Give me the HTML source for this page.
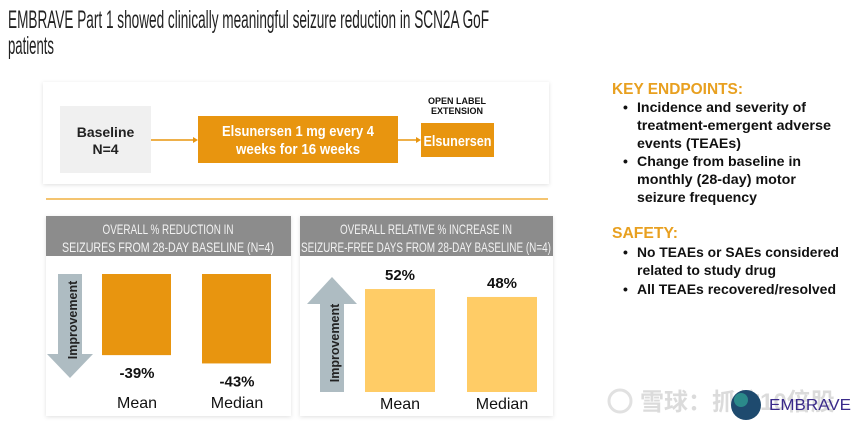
<!DOCTYPE html>
<html><head><meta charset="utf-8"><style>
html,body{margin:0;padding:0;background:#fff;}
svg{display:block;font-family:"Liberation Sans",sans-serif;}
</style></head><body>
<svg width="865" height="430" viewBox="0 0 865 430">
<defs>
<filter id="sh" x="-5%" y="-5%" width="110%" height="115%"><feDropShadow dx="0" dy="1" stdDeviation="2" flood-color="#000" flood-opacity="0.12"/></filter>
</defs>
<g fill="#222" font-size="25">
<text x="8" y="28" textLength="481" lengthAdjust="spacingAndGlyphs">EMBRAVE Part 1 showed clinically meaningful seizure reduction in SCN2A GoF</text>
<text x="8" y="54" textLength="46" lengthAdjust="spacingAndGlyphs">patients</text>
</g>

<g>
<rect x="43" y="82" width="506" height="102" fill="#fff" filter="url(#sh)"/>
<rect x="60" y="106" width="91" height="67" fill="#f0f0f0"/>
<text x="105.5" y="137" text-anchor="middle" font-size="14" font-weight="bold" fill="#222">Baseline</text>
<text x="105.5" y="154" text-anchor="middle" font-size="14" font-weight="bold" fill="#222">N=4</text>
<line x1="151" y1="140" x2="196" y2="140" stroke="#e8950f" stroke-width="1.5"/>
<polygon points="198,140 193,137 193,143" fill="#e8950f"/>
<rect x="198" y="116" width="200" height="47" fill="#e8950f"/>
<text x="298" y="136" text-anchor="middle" font-size="15" font-weight="bold" fill="#fff" textLength="152" lengthAdjust="spacingAndGlyphs">Elsunersen 1 mg every 4</text>
<text x="298" y="154" text-anchor="middle" font-size="15" font-weight="bold" fill="#fff" textLength="124" lengthAdjust="spacingAndGlyphs">weeks for 16 weeks</text>
<line x1="398" y1="140" x2="419" y2="140" stroke="#e8950f" stroke-width="1.5"/>
<polygon points="421,140 416,137 416,143" fill="#e8950f"/>
<text x="457" y="104" text-anchor="middle" font-size="9" font-weight="bold" fill="#111">OPEN LABEL</text>
<text x="457" y="114" text-anchor="middle" font-size="9" font-weight="bold" fill="#111">EXTENSION</text>
<rect x="421" y="123" width="73" height="34" fill="#e8950f"/>
<text x="457.5" y="146" text-anchor="middle" font-size="15" font-weight="bold" fill="#fff" textLength="68" lengthAdjust="spacingAndGlyphs">Elsunersen</text>
</g>
<line x1="46" y1="199" x2="548" y2="199" stroke="#f0b040" stroke-width="1.5"/>

<g>
<rect x="46" y="216" width="245" height="200" fill="#fff" filter="url(#sh)"/>
<rect x="46" y="216" width="245" height="40" fill="#8c8c8c"/>
<text x="168" y="234" text-anchor="middle" font-size="14" fill="#f2f2f2" textLength="131" lengthAdjust="spacingAndGlyphs">OVERALL % REDUCTION IN</text>
<text x="168" y="252" text-anchor="middle" font-size="14" fill="#f2f2f2" textLength="212" lengthAdjust="spacingAndGlyphs">SEIZURES FROM 28-DAY BASELINE (N=4)</text>
<g>
<rect x="58" y="274" width="24" height="80" fill="#aebcc2"/>
<polygon points="47,354 93,354 70,378" fill="#aebcc2"/>
<text transform="translate(77,320) rotate(-90)" text-anchor="middle" font-size="12.5" font-weight="bold" fill="#222">Improvement</text>
</g>
<g id="left-chart"></g>
</g>

<g>
<rect x="300" y="216" width="253" height="200" fill="#fff" filter="url(#sh)"/>
<rect x="300" y="216" width="253" height="40" fill="#8c8c8c"/>
<text x="426" y="234" text-anchor="middle" font-size="14" fill="#f2f2f2" textLength="172" lengthAdjust="spacingAndGlyphs">OVERALL RELATIVE % INCREASE IN</text>
<text x="426" y="252" text-anchor="middle" font-size="14" fill="#f2f2f2" textLength="250" lengthAdjust="spacingAndGlyphs">SEIZURE-FREE DAYS FROM 28-DAY BASELINE (N=4)</text>
<g>
<rect x="320" y="304" width="24" height="88" fill="#aebcc2"/>
<polygon points="307,304 357,304 332,277" fill="#aebcc2"/>
<text transform="translate(339,343) rotate(-90)" text-anchor="middle" font-size="12.5" font-weight="bold" fill="#222">Improvement</text>
</g>
<g id="right-chart"></g>
</g>

<g font-size="14" font-weight="bold" fill="#111">
<text x="612" y="94" font-size="16" fill="#e8a020" textLength="131" lengthAdjust="spacingAndGlyphs">KEY ENDPOINTS:</text>
<text x="623" y="112">•</text><text x="637" y="112" textLength="169" lengthAdjust="spacingAndGlyphs">Incidence and severity of</text>
<text x="637" y="130" textLength="194" lengthAdjust="spacingAndGlyphs">treatment-emergent adverse</text>
<text x="637" y="148" textLength="104" lengthAdjust="spacingAndGlyphs">events (TEAEs)</text>
<text x="623" y="166">•</text><text x="637" y="166" textLength="164" lengthAdjust="spacingAndGlyphs">Change from baseline in</text>
<text x="637" y="184" textLength="159" lengthAdjust="spacingAndGlyphs">monthly (28-day) motor</text>
<text x="637" y="202" textLength="120" lengthAdjust="spacingAndGlyphs">seizure frequency</text>
<text x="612" y="238" font-size="16" fill="#e8a020" textLength="66" lengthAdjust="spacingAndGlyphs">SAFETY:</text>
<text x="623" y="257">•</text><text x="637" y="257" textLength="202" lengthAdjust="spacingAndGlyphs">No TEAEs or SAEs considered</text>
<text x="637" y="275" textLength="139" lengthAdjust="spacingAndGlyphs">related to study drug</text>
<text x="623" y="294">•</text><text x="637" y="294" textLength="199" lengthAdjust="spacingAndGlyphs">All TEAEs recovered/resolved</text>
</g>

<g opacity="0.35" font-family="'Liberation Sans','Noto Sans CJK SC',sans-serif" fill="#999">
<circle cx="620" cy="401" r="11" fill="none" stroke="#aaa" stroke-width="3"/>
<text x="640" y="410" font-size="24" font-weight="bold">雪球：抓住10倍股</text>
</g>
<g>
<circle cx="746" cy="405" r="15" fill="#1e4a6e"/>
<circle cx="741" cy="400" r="7" fill="#2b8a8a"/>
<text x="769" y="410" font-size="16" fill="#3a2a8a" textLength="82" lengthAdjust="spacingAndGlyphs">EMBRAVE</text>
</g>
</svg>
<script>
const leftCats = ["Mean", "Median"];
const leftValues = [-39, -43];
const leftLabels = ["-39%", "-43%"];
const rightCats = ["Mean", "Median"];
const rightValues = [52, 48];
const rightLabels = ["52%", "48%"];

const NS = "http://www.w3.org/2000/svg";
function mk(tag, attrs, parent) {
  const e = document.createElementNS(NS, tag);
  for (const k in attrs) e.setAttribute(k, attrs[k]);
  parent.appendChild(e);
  return e;
}
const lg = document.getElementById("left-chart");
const lZero = 274, lScale = 2.08;
const lx = i => 102 + i * 100;
function ly(v) { return lZero + (-v) * lScale; }
leftValues.forEach((v, i) => {
  const r = mk("rect", {x: lx(i), y: lZero, width: 69, height: ly(v) - lZero, fill: "#e8950f"}, lg);
  
  
  const t = mk("text", {x: lx(i) + 35, y: ly(v) + 23, "text-anchor": "middle", "font-size": "15", "font-weight": "bold", fill: "#111"}, lg);
  t.textContent = leftLabels[i];
  
  
  const c = mk("text", {x: lx(i) + 35, y: 408, "text-anchor": "middle", "font-size": "16", fill: "#111"}, lg);
  c.textContent = leftCats[i];
  
  
});
const rg = document.getElementById("right-chart");
const rBase = 392, rScale = 1.98;
const rx = i => 365 + i * 102;
function ry(v) { return rBase - v * rScale; }
rightValues.forEach((v, i) => {
  const r = mk("rect", {x: rx(i), y: ry(v), width: 70, height: rBase - ry(v), fill: "#ffcc66"}, rg);
  
  
  const t = mk("text", {x: rx(i) + 35, y: ry(v) - 9, "text-anchor": "middle", "font-size": "15", "font-weight": "bold", fill: "#111"}, rg);
  t.textContent = rightLabels[i];
  
  
  const c = mk("text", {x: rx(i) + 35, y: 409, "text-anchor": "middle", "font-size": "16", fill: "#111"}, rg);
  c.textContent = rightCats[i];
  
  
});
</script>
</body></html>
